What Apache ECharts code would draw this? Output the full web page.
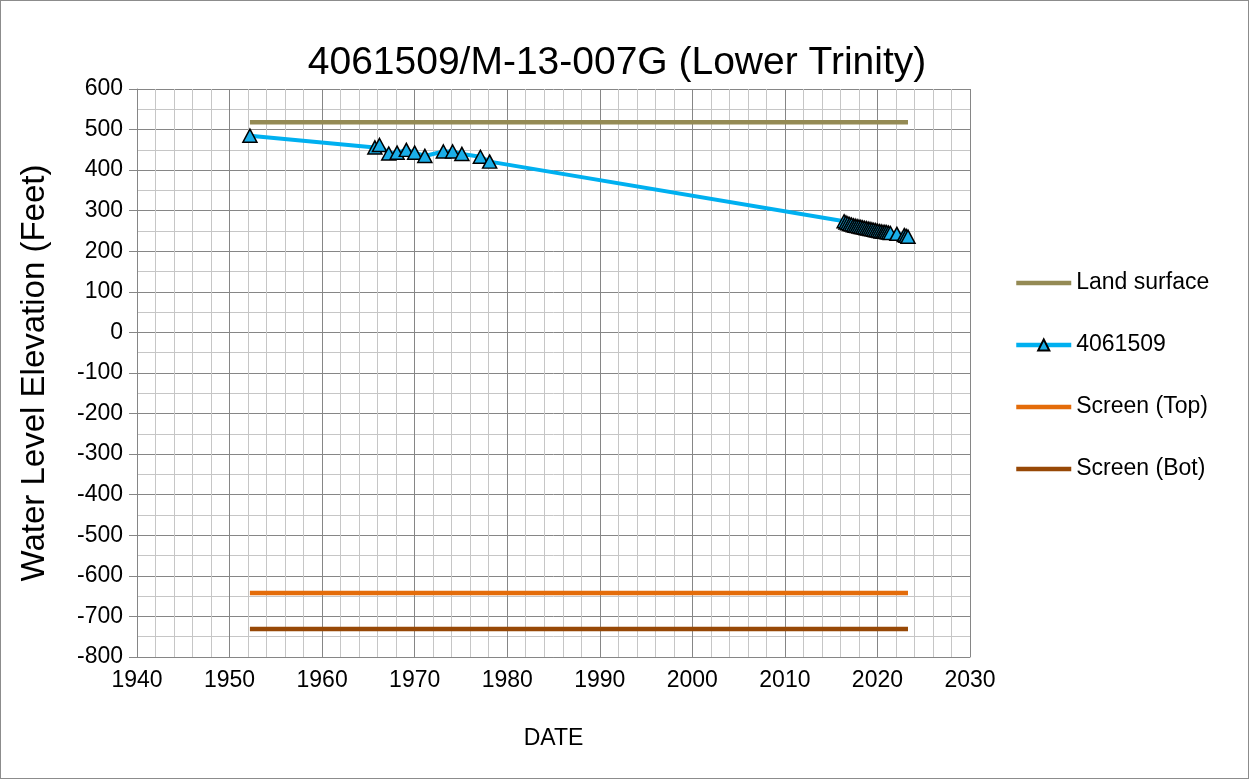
<!DOCTYPE html>
<html>
<head>
<meta charset="utf-8">
<title>4061509/M-13-007G (Lower Trinity)</title>
<script src="https://cdn.jsdelivr.net/npm/echarts@6/dist/echarts.min.js"></script>
<style>
  html, body { margin: 0; padding: 0; background: #fff; }
  .chartContent { position: relative; width: 1249px; height: 779px; }
  .chartContent .chart { width: 100%; height: 100%; }
  .chartContent .frame {
    position: absolute; left: 0; top: 0; right: 0; bottom: 0;
    border: 1px solid #8c8c8c; pointer-events: none;
  }
</style>
</head>
<body>
<div class="chartContent">
  <div class="chart" id="wellChart"></div>
  <div class="frame"></div>
</div>
<script>
// 观测数据 (decimal year, feet)
const wellDates = [
  1952.2, 1965.7, 1966.2, 1967.2, 1968.1, 1969.1, 1970.0, 1971.1,
  1973.1, 1974.1, 1975.1, 1977.1, 1978.1,
  2016.4, 2016.6, 2016.8, 2017.0, 2017.2, 2017.4, 2017.6, 2017.8,
  2018.0, 2018.2, 2018.4, 2018.6, 2018.8, 2019.0, 2019.2, 2019.4,
  2019.6, 2019.8, 2020.0, 2020.2, 2020.4, 2020.6, 2020.8, 2021.0,
  2021.2, 2021.4, 2022.1, 2022.9, 2023.1, 2023.3
];
const wellLevels = [
  485, 456, 462, 441, 443, 450, 443, 435,
  446, 446, 440, 433, 421,
  274, 271, 269, 267, 266, 264, 263, 262,
  261, 260, 259, 258, 257, 256, 255, 254,
  253, 252, 251, 250, 249, 248, 248, 247,
  246, 245, 243, 240, 238, 236
];

// 参考线 (start / end year)
const refDates = [1952.2, 2023.3];
const landSurface = 518;
const screenTop = -642;
const screenBot = -731;

const seriesNames = ['Land surface', '4061509', 'Screen (Top)', 'Screen (Bot)'];
const chartTitle = '4061509/M-13-007G (Lower Trinity)';
const xTitle = 'DATE';
const yTitle = 'Water Level Elevation (Feet)';

const font = 'Liberation Sans, Arial, sans-serif';

function flatLine(val) {
  return refDates.map(d => [d, val]);
}

let myChart = echarts.init(document.getElementById('wellChart'), null, { renderer: 'canvas' });
let option = {
  animation: false,
  backgroundColor: '#ffffff',
  textStyle: { fontFamily: font, color: '#000' },
  title: {
    text: chartTitle,
    left: 617,
    top: 44,
    textAlign: 'center',
    padding: 0,
    textStyle: { fontFamily: font, fontSize: 39, fontWeight: 'normal', color: '#000' }
  },
  legend: {
    orient: 'vertical',
    left: 1014,
    top: 271,
    padding: 0,
    itemWidth: 55,
    itemHeight: 14,
    itemGap: 38,
    lineStyle: { width: 4.5 },
    textStyle: { fontFamily: font, fontSize: 23, color: '#000', lineHeight: 24 },
    data: [
      { name: seriesNames[0], itemStyle: { opacity: 0 } },
      { name: seriesNames[1] },
      { name: seriesNames[2], itemStyle: { opacity: 0 } },
      { name: seriesNames[3], itemStyle: { opacity: 0 } }
    ]
  },
  grid: {
    left: 137,
    right: 279,
    top: 89,
    bottom: 122,
    containLabel: false
  },
  xAxis: {
    type: 'value',
    min: 1940,
    max: 2030,
    interval: 10,
    name: xTitle,
    nameLocation: 'middle',
    nameGap: 70,
    nameTextStyle: { fontFamily: font, fontSize: 23, color: '#000' },
    axisLine: { show: true, onZero: false, lineStyle: { color: '#868686', width: 1 } },
    axisTick: { show: false },
    axisLabel: { fontFamily: font, fontSize: 23, color: '#000', margin: 12, formatter: v => String(v) },
    splitLine: { show: true, lineStyle: { color: '#868686', width: 1 } },
    minorTick: { show: false, splitNumber: 5 },
    minorSplitLine: { show: true, lineStyle: { color: '#c6c6c6', width: 1 } }
  },
  yAxis: {
    type: 'value',
    min: -800,
    max: 600,
    interval: 100,
    name: yTitle,
    nameLocation: 'middle',
    nameGap: 86,
    nameTextStyle: { fontFamily: font, fontSize: 33, color: '#000' },
    axisLine: { show: true, lineStyle: { color: '#868686', width: 1 } },
    axisTick: { show: true, length: 8, lineStyle: { color: '#868686' } },
    axisLabel: { fontFamily: font, fontSize: 23, color: '#000', margin: 14 },
    splitLine: { show: true, lineStyle: { color: '#868686', width: 1 } },
    minorTick: { show: false, splitNumber: 2 },
    minorSplitLine: { show: true, lineStyle: { color: '#c6c6c6', width: 1 } }
  },
  series: [
    {
      name: seriesNames[0],
      type: 'line',
      data: flatLine(landSurface),
      symbol: 'none',
      lineStyle: { color: '#948a54', width: 4.5 },
      itemStyle: { color: '#948a54' },
      z: 2
    },
    {
      name: seriesNames[1],
      type: 'line',
      data: wellDates.map((d, i) => [d, wellLevels[i]]),
      symbol: 'triangle',
      symbolSize: [14, 13],
      showAllSymbol: true,
      lineStyle: { color: '#00b0f0', width: 4 },
      itemStyle: { color: '#1aaee8', borderColor: '#000', borderWidth: 1.5 },
      z: 4
    },
    {
      name: seriesNames[2],
      type: 'line',
      data: flatLine(screenTop),
      symbol: 'none',
      lineStyle: { color: '#e46c0a', width: 4.5 },
      itemStyle: { color: '#e46c0a' },
      z: 2
    },
    {
      name: seriesNames[3],
      type: 'line',
      data: flatLine(screenBot),
      symbol: 'none',
      lineStyle: { color: '#974806', width: 4.5 },
      itemStyle: { color: '#974806' },
      z: 2
    }
  ]
};
myChart.setOption(option);
window.onresize = myChart.resize;
</script>
</body>
</html>
